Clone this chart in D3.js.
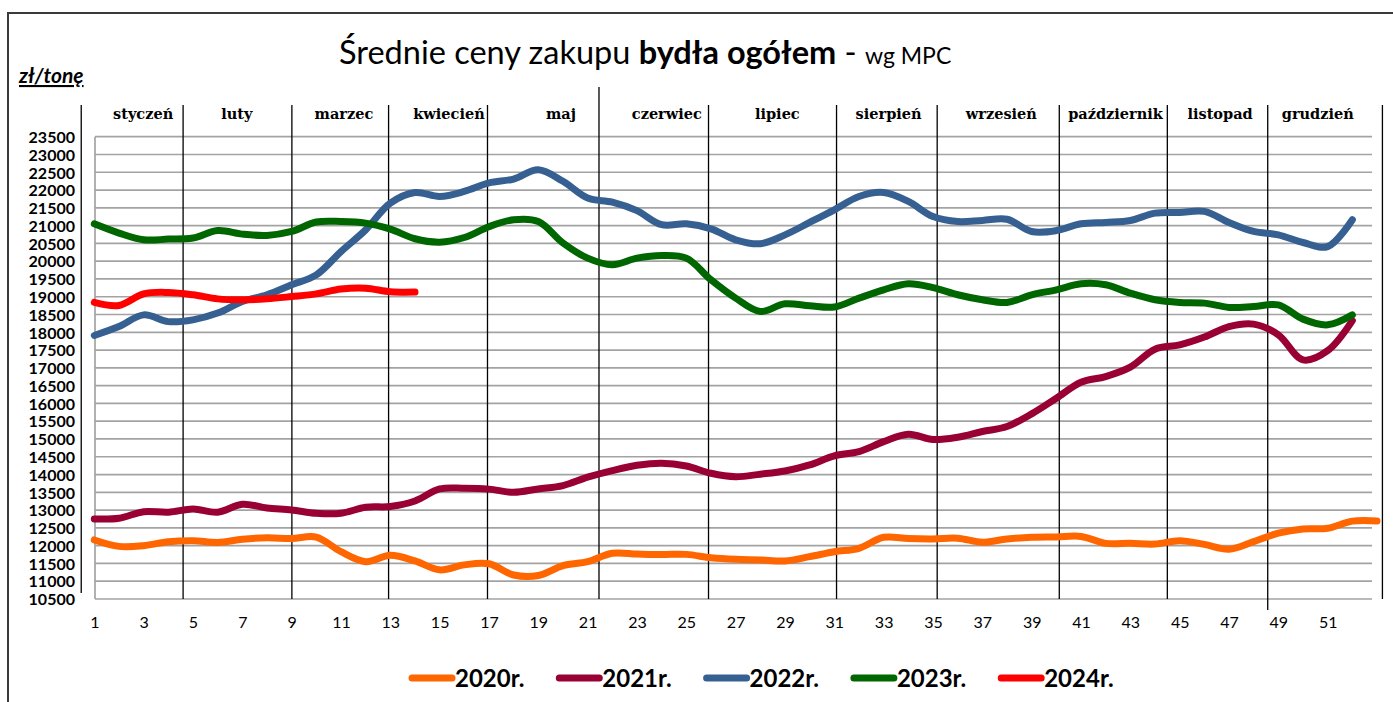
<!DOCTYPE html>
<html lang="pl">
<head>
<meta charset="UTF-8">
<title>Średnie ceny zakupu bydła ogółem</title>
<script src="https://d3js.org/d3.v7.min.js"></script>
<style>
  body { margin: 0; background: #fff; }
  svg { display: block; }
</style>
</head>
<body>
<svg id="chart" width="1393" height="702"></svg>
<script>
// --- dane (zł/tonę, tygodnie 1..53) ---
const weeks = d3.range(1, 54);
const years = ["2020r.", "2021r.", "2022r.", "2023r.", "2024r."];
const colors = ["#ff6600", "#990033", "#376092", "#006600", "#ff0000"];

const v2020 = [12160, 11980, 12000, 12110, 12140, 12090, 12180, 12220, 12200, 12240,
  11830, 11550, 11730, 11570, 11320, 11460, 11490, 11175, 11160, 11440,
  11550, 11785, 11765, 11750, 11755, 11660, 11615, 11600, 11570, 11690,
  11830, 11925, 12235, 12200, 12190, 12210, 12095, 12190, 12235, 12245,
  12260, 12065, 12065, 12045, 12140, 12035, 11900, 12115, 12350, 12470,
  12490, 12690, 12695];
const v2021 = [12750, 12770, 12955, 12940, 13030, 12940, 13165, 13060, 13005, 12910,
  12910, 13080, 13100, 13255, 13595, 13615, 13590, 13500, 13595, 13690,
  13925, 14110, 14260, 14320, 14240, 14035, 13940, 14010, 14100, 14270,
  14525, 14645, 14925, 15135, 14985, 15050, 15210, 15350, 15705, 16145,
  16595, 16755, 17020, 17525, 17645, 17865, 18160, 18230, 17930, 17225,
  17485, 18330];
const v2022 = [17910, 18160, 18490, 18300, 18350, 18540, 18865, 19055, 19335, 19615,
  20270, 20880, 21630, 21930, 21820, 21960, 22200, 22310, 22570, 22245,
  21775, 21660, 21420, 21025, 21050, 20910, 20600, 20490, 20740, 21090,
  21445, 21820, 21930, 21680, 21255, 21115, 21145, 21180, 20835, 20860,
  21050, 21090, 21145, 21350, 21370, 21400, 21090, 20835, 20740, 20525,
  20410, 21165];
const v2023 = [21050, 20790, 20600, 20620, 20650, 20860, 20760, 20725, 20835, 21100,
  21115, 21070, 20900, 20630, 20535, 20665, 20970, 21165, 21115, 20510,
  20085, 19900, 20085, 20160, 20085, 19475, 18960, 18585, 18800, 18745,
  18710, 18960, 19195, 19365, 19255, 19055, 18915, 18840, 19055, 19195,
  19365, 19335, 19100, 18915, 18840, 18820, 18700, 18725, 18770, 18370,
  18210, 18490];
const v2024 = [18840, 18755, 19080, 19120, 19055, 18940, 18915, 18940, 19005, 19080,
  19215, 19240, 19140, 19130];
const series = [v2020, v2021, v2022, v2023, v2024];

const months = ["styczeń", "luty", "marzec", "kwiecień", "maj", "czerwiec", "lipiec",
  "sierpień", "wrzesień", "październik", "listopad", "grudzień"];
// środki podpisów miesięcy i granice miesięcy, w jednostkach tygodni
const monthMid = [2.98, 6.78, 11.12, 15.38, 19.92, 24.21, 28.69, 33.2, 37.77, 42.4, 46.64, 50.6];
const monthEdge = [0.47, 4.6, 9.01, 12.93, 16.94, 21.46, 25.9, 31.09, 35.17, 40.12, 44.5, 48.57, 53.22];

const yTicks = d3.range(10500, 23501, 500);
const xTicks = d3.range(1, 53, 2);

// --- rysowanie ---
const svg = d3.select("#chart");

const x = d3.scaleLinear().domain([1, 53]).range([94.3, 1377]);
const y = d3.scaleLinear().domain([10500, 23500]).range([599, 136.7]);

// ramka
svg.append("path")
  .attr("d", "M8,702 L8,13 L1393,13")
  .attr("fill", "none")
  .attr("stroke", "#3a3a3a")
  .attr("stroke-width", 2);

// tytuł
const title = svg.append("text")
  .attr("x", 339).attr("y", 64)
  .style("font-family", "Lato, sans-serif")
  .style("font-size", "32.5px")
  .attr("fill", "#000");
title.append("tspan").text("Średnie ceny zakupu ");
title.append("tspan").style("font-weight", "bold").text("bydła ogółem");
title.append("tspan").text(" - ");
title.append("tspan").style("font-size", "23px").text("wg MPC");

// jednostka
svg.append("text")
  .attr("x", 19).attr("y", 83)
  .style("font-family", "Lato, sans-serif")
  .style("font-size", "21px")
  .style("font-weight", "bold")
  .style("font-style", "italic")
  .style("text-decoration", "underline")
  .text("zł/tonę");

// siatka
svg.append("g")
  .selectAll("line")
  .data(yTicks)
  .join("line")
  .attr("x1", 95).attr("x2", 1372)
  .attr("y1", d => y(d)).attr("y2", d => y(d))
  .attr("stroke", "#a3a3a3")
  .attr("stroke-width", 1.7);

svg.append("line")
  .attr("x1", 95).attr("x2", 95)
  .attr("y1", y(23500)).attr("y2", y(10500))
  .attr("stroke", "#a3a3a3")
  .attr("stroke-width", 1.7);

// oś Y
const yAxis = svg.append("g")
  .attr("transform", "translate(75,0)")
  .call(d3.axisLeft(y).tickValues(yTicks).tickSize(0).tickPadding(0).tickFormat(d3.format("d")));
yAxis.select(".domain").remove();
yAxis.selectAll("text")
  .attr("dy", "0.36em")
  .style("font-family", "Lato, sans-serif")
  .style("font-size", "16px")
  .style("font-weight", "bold")
  .attr("fill", "#000");

// oś X
const xAxis = svg.append("g")
  .attr("transform", "translate(0,612)")
  .call(d3.axisBottom(x).tickValues(xTicks).tickSize(0).tickPadding(0).tickFormat(d3.format("d")));
xAxis.select(".domain").remove();
xAxis.selectAll("text")
  .attr("dy", "1em")
  .style("font-family", "Lato, sans-serif")
  .style("font-size", "16px")
  .attr("fill", "#000");

// granice miesięcy
svg.append("g")
  .selectAll("line")
  .data(monthEdge)
  .join("line")
  .attr("x1", d => x(d)).attr("x2", d => x(d))
  .attr("y1", (d, i) => i === 5 ? 87 : 105)
  .attr("y2", (d, i) => i === 0 ? 593 : (i === 11 ? 610 : 599))
  .attr("stroke", "#000")
  .attr("stroke-width", 1.3);

// podpisy miesięcy
svg.append("g")
  .selectAll("text")
  .data(months)
  .join("text")
  .attr("x", (d, i) => x(monthMid[i]))
  .attr("y", 119)
  .attr("text-anchor", "middle")
  .style("font-family", "'DejaVu Serif', serif")
  .style("font-size", "14.5px")
  .style("font-weight", "bold")
  .attr("fill", "#000")
  .text(d => d);

// linie
const line = d3.line()
  .x((d, i) => x(weeks[i]))
  .y(d => y(d))
  .curve(d3.curveCatmullRom.alpha(0.5));

svg.append("g")
  .selectAll("path")
  .data(series)
  .join("path")
  .attr("d", d => line(d))
  .attr("fill", "none")
  .attr("stroke", (d, i) => colors[i])
  .attr("stroke-width", 7)
  .attr("stroke-linecap", "round")
  .attr("stroke-linejoin", "round");

// legenda
const leg = svg.append("g")
  .selectAll("g")
  .data(years)
  .join("g")
  .attr("transform", (d, i) => `translate(${412 + i * 147.3},678)`);
leg.append("line")
  .attr("x1", 0).attr("x2", 40)
  .attr("stroke", (d, i) => colors[i])
  .attr("stroke-width", 7)
  .attr("stroke-linecap", "round");
leg.append("text")
  .attr("x", 43).attr("y", 9)
  .style("font-family", "Lato, sans-serif")
  .style("font-size", "24px")
  .style("font-weight", "bold")
  .attr("fill", "#000")
  .text(d => d);
</script>
</body>
</html>
